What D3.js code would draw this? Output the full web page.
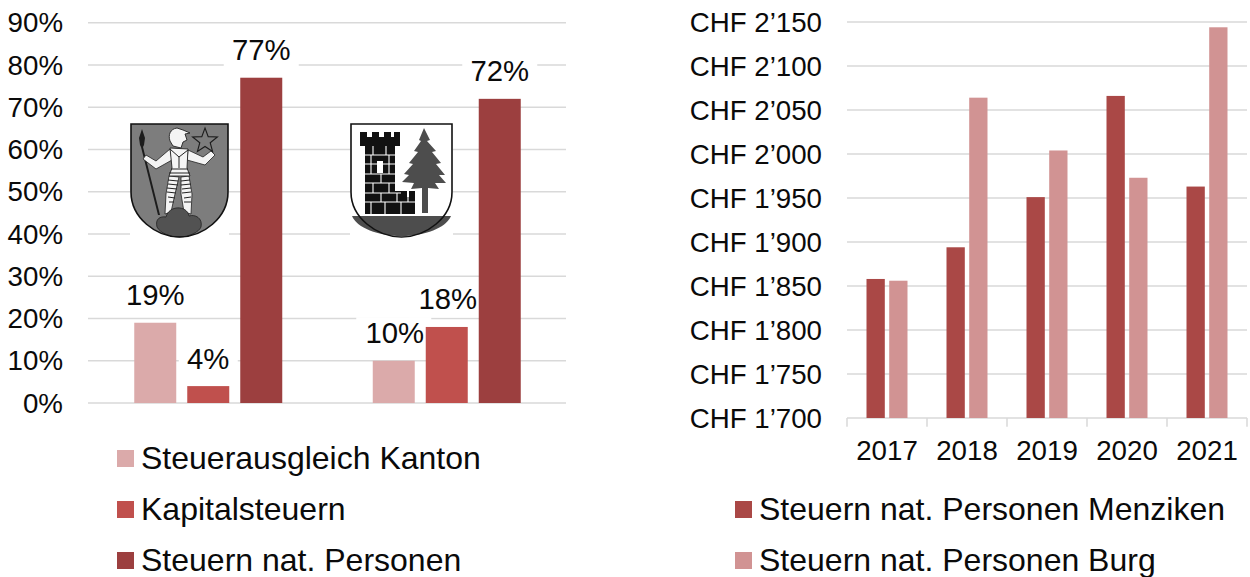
<!DOCTYPE html>
<html>
<head>
<meta charset="utf-8">
<script src="https://cdn.jsdelivr.net/npm/d3@7"></script>
<style>
html, body { margin: 0; padding: 0; background: #fff; }
text { font-family: "Liberation Sans", Arial, sans-serif; fill: #0a0a0a; }
</style>
</head>
<body>
<div id="chart"></div>
<script>
var shareGroups = ["Menziken", "Burg"];
var shareSeries = ["Steuerausgleich Kanton", "Kapitalsteuern", "Steuern nat. Personen"];
var shareColors = ["#dbaaaa", "#c0504d", "#9c3f3f"];
var shareValues = [[19, 10], [4, 18], [77, 72]];
var shareTicks = [0, 10, 20, 30, 40, 50, 60, 70, 80, 90];

var years = ["2017", "2018", "2019", "2020", "2021"];
var taxSeries = ["Steuern nat. Personen Menziken", "Steuern nat. Personen Burg"];
var taxColors = ["#aa4846", "#d19393"];
var taxMenziken = [1858, 1894, 1951, 2066, 1963];
var taxBurg = [1856, 2064, 2004, 1973, 2144];
var taxTicks = [1700, 1750, 1800, 1850, 1900, 1950, 2000, 2050, 2100, 2150];

var width = 1250, height = 577;
var tickSize = 27.7, labelSize = 29.3, legendSize = 32;
var gridColor = "#d9d9d9";

var svg = d3.select("#chart").append("svg")
    .attr("width", width)
    .attr("height", height)
    .style("display", "block");

// left chart
var left_g = svg.append("g");
var xLeft = d3.scaleBand().domain(shareGroups).range([89, 566]);
var yLeft = d3.scaleLinear().domain([0, 90]).range([403, 22.8]);
var barLeft = 42, stepLeft = 53;

function barCenter(group, s) {
    return xLeft(group) + xLeft.bandwidth() / 2 + (s - 1) * stepLeft;
}

left_g.selectAll(".grid").data(shareTicks).enter().append("line")
    .attr("x1", 88).attr("x2", 566)
    .attr("y1", d => yLeft(d)).attr("y2", d => yLeft(d))
    .attr("stroke", gridColor).attr("stroke-width", 1.5);

left_g.selectAll(".tick").data(shareTicks).enter().append("text")
    .attr("x", 63).attr("y", d => yLeft(d) + 9.5)
    .attr("text-anchor", "end").attr("font-size", tickSize)
    .text(d => d + "%");

// label boxes sit over the gridlines but under the bars
shareSeries.forEach((name, s) => {
    shareGroups.forEach((group, g) => {
        let value = shareValues[s][g];
        let w = String(value).length == 1 ? 59 : 75;
        left_g.append("rect")
            .attr("x", barCenter(group, s) - w / 2)
            .attr("y", yLeft(value) - 43.5)
            .attr("width", w).attr("height", 34)
            .attr("fill", "#fff");
    });
});

shareSeries.forEach((name, s) => {
    shareGroups.forEach((group, g) => {
        let value = shareValues[s][g];
        left_g.append("rect")
            .attr("x", barCenter(group, s) - barLeft / 2)
            .attr("y", yLeft(value))
            .attr("width", barLeft)
            .attr("height", yLeft(0) - yLeft(value))
            .attr("fill", shareColors[s]);
    });
});

// coats of arms (pictures in the original, not data)
function shieldPath(w) {
    return "M0,0 H" + w + " V68 C" + w + ",94 " + (w * 0.74) + ",113 " + (w / 2) + ",113 C" + (w * 0.26) + ",113 0,94 0,68 Z";
}

function drawShieldBack(x, y, w, fill) {
    let g = left_g.append("g").attr("transform", "translate(" + x + "," + y + ")");
    g.append("rect").attr("x", -1).attr("y", -2).attr("width", w + 2).attr("height", 118).attr("fill", "#fff");
    g.append("path").attr("d", shieldPath(w)).attr("fill", fill);
    return g;
}

var arm1 = drawShieldBack(131, 124, 97, "#7d7d7d");
// spear
arm1.append("path").attr("d", "M11,5 L14,14 L13,21 L12,23 L29,91 L27,91 L10,23 L9,21 L8,14 Z").attr("fill", "#1c1c1c");
// arms and legs
arm1.append("path").attr("d", "M39,25 L25,37 L15,31 L12,35 L25,45 L41,36 Z M57,26 L72,33 L80,27 L84,31 L74,41 L56,36 Z")
    .attr("fill", "#f4f4f4").attr("stroke", "#222").attr("stroke-width", 0.8);
arm1.append("path").attr("d", "M38,52 L48,53 L44,70 L40,88 L34,90 L35,70 Z M50,53 L58,52 L61,70 L60,90 L53,88 L50,70 Z")
    .attr("fill", "#f4f4f4").attr("stroke", "#222").attr("stroke-width", 0.8);
arm1.append("path").attr("d", "M37,56 L47,57 M37,60 L47,61 M36,64 L46,65 M36,68 L45,69 M50,57 L59,56 M50,61 L60,60 M51,65 L60,64 M51,69 L60,68 M37,73 L44,74 M38,78 L43,78 M53,74 L60,73 M53,78 L60,78")
    .attr("stroke", "#222").attr("stroke-width", 1).attr("fill", "none");
// torso and belt
arm1.append("path").attr("d", "M39,24 L57,25 L56,44 L59,52 L38,52 L41,44 Z")
    .attr("fill", "#f4f4f4").attr("stroke", "#222").attr("stroke-width", 0.9);
arm1.append("path").attr("d", "M39,25 L48,33 L57,26 M48,33 V44 M40,45 H57 M38,49 H59")
    .attr("stroke", "#222").attr("stroke-width", 1).attr("fill", "none");
// helmet
arm1.append("path").attr("d", "M46,4 C39,5 37,11 39,17 L42,22 L50,24 L52,18 L56,16 L54,10 L59,9 L52,6 Z")
    .attr("fill", "#f4f4f4").attr("stroke", "#222").attr("stroke-width", 0.9);
// star
arm1.append("path").attr("d", d3.range(10).map(i => {
        let r = i % 2 ? 5.5 : 13, a = i * Math.PI / 5 - Math.PI / 2;
        return (i ? "L" : "M") + (74 + r * Math.cos(a)).toFixed(1) + "," + (17 + r * Math.sin(a)).toFixed(1);
    }).join("") + "Z")
    .attr("fill", "none").attr("stroke", "#1c1c1c").attr("stroke-width", 1.1);
// rock
arm1.append("path").attr("d", "M26,103 C24,95 29,92 35,93 C38,81 56,81 58,92 C64,90 72,94 70,103 C68,108 58,113 48.5,113 C39,113 29,109 26,103 Z")
    .attr("fill", "#525252").attr("stroke", "#222").attr("stroke-width", 0.8);
arm1.append("path").attr("d", shieldPath(97)).attr("fill", "none").attr("stroke", "#111").attr("stroke-width", 1.6);

var arm2 = drawShieldBack(351, 124, 101, "#fff");
// tower and wall
arm2.append("path").attr("d", "M9,8 H16 V13 H21 V8 H28 V13 H33 V8 H40 V13 H43 V8 H49 V22 H44 V67 H50 V68 H50 V67 H56 V73 H58 V67 H64 V90 H14 V22 H9 Z").attr("fill", "#111");
arm2.append("path").attr("d", "M14,31 H44 M14,40 H44 M14,50 H44 M14,59 H44 M14,69 H50 M14,78 H64 M22,22 V31 M35,22 V31 M20,31 V40 M38,31 V40 M20,40 V50 M38,40 V50 M30,50 V59 M22,59 V69 M38,59 V69 M30,69 V78 M46,69 V78 M57,69 V78 M20,78 V90 M34,78 V90 M50,78 V90")
    .attr("stroke", "#fff").attr("stroke-width", 1.1).attr("fill", "none");
arm2.append("rect").attr("x", 26).attr("y", 37).attr("width", 6).attr("height", 12).attr("fill", "#fff");
// fir tree
arm2.append("path").attr("d", "M73,4 L79,16 L76,17 L85,27 L81,28 L90,39 L85,40 L94,51 L88,51 L95,59 L84,59 L88,65 L77,64 L77,89 L71,89 L71,64 L60,65 L63,59 L51,58 L58,51 L53,50 L62,40 L58,39 L67,28 L63,27 L70,17 L68,16 Z")
    .attr("fill", "#4d4d4d");
// ground
arm2.append("path").attr("d", "M1,92 H100 C95,104 74,112 50.5,112 C27,112 6,104 1,92 Z").attr("fill", "#4d4d4d");
arm2.append("path").attr("d", shieldPath(101)).attr("fill", "none").attr("stroke", "#111").attr("stroke-width", 1.6);

// value labels
shareSeries.forEach((name, s) => {
    shareGroups.forEach((group, g) => {
        let value = shareValues[s][g];
        left_g.append("text")
            .attr("x", barCenter(group, s) + (g == 1 && s < 2 ? 1 : 0))
            .attr("y", yLeft(value) - 17.5)
            .attr("text-anchor", "middle").attr("font-size", labelSize)
            .text(value + "%");
    });
});

function drawLegend(g, x, names, colors, ys) {
    names.forEach((name, i) => {
        g.append("rect").attr("x", x).attr("y", ys[i] - 8.5)
            .attr("width", 17).attr("height", 17).attr("fill", colors[i]);
        g.append("text").attr("x", x + 24).attr("y", ys[i] + 10.5)
            .attr("font-size", legendSize).text(name);
    });
}
drawLegend(left_g, 117, shareSeries, shareColors, [458.5, 509.5, 560.5]);

// right chart
var right_g = svg.append("g");
var xRight = d3.scaleBand().domain(years).range([847, 1247]);
var yRight = d3.scaleLinear().domain([1700, 2150]).range([418, 22]);
var barRight = 18.3, gapRight = 4.4;

right_g.selectAll(".grid").data(taxTicks.slice(1)).enter().append("line")
    .attr("x1", 847).attr("x2", 1247)
    .attr("y1", d => yRight(d)).attr("y2", d => yRight(d))
    .attr("stroke", gridColor).attr("stroke-width", 1.5);

right_g.append("line").attr("x1", 847).attr("x2", 1247)
    .attr("y1", 418).attr("y2", 418)
    .attr("stroke", gridColor).attr("stroke-width", 1.5);

d3.range(6).forEach(i => {
    let tx = 847 + i * xRight.step();
    right_g.append("line").attr("x1", tx).attr("x2", tx)
        .attr("y1", 418).attr("y2", 426.7)
        .attr("stroke", gridColor).attr("stroke-width", 1.5);
});

right_g.selectAll(".tick").data(taxTicks).enter().append("text")
    .attr("x", 822).attr("y", d => yRight(d) + 9.5)
    .attr("text-anchor", "end").attr("font-size", tickSize)
    .text(d => "CHF " + d3.format("d")(Math.floor(d / 1000)) + "’" + d3.format("03d")(d % 1000));

right_g.selectAll(".year").data(years).enter().append("text")
    .attr("x", d => xRight(d) + xRight.bandwidth() / 2).attr("y", 459.5)
    .attr("text-anchor", "middle").attr("font-size", tickSize)
    .text(d => d);

[taxMenziken, taxBurg].forEach((vals, s) => {
    right_g.selectAll(".bar" + s).data(vals).enter().append("rect")
        .attr("x", (d, i) => xRight(years[i]) + xRight.bandwidth() / 2 + (s == 0 ? -gapRight / 2 - barRight : gapRight / 2))
        .attr("y", d => yRight(d))
        .attr("width", barRight)
        .attr("height", d => yRight(1700) - yRight(d))
        .attr("fill", taxColors[s]);
});

drawLegend(right_g, 735, taxSeries, taxColors, [509.5, 560.5]);
</script>
</body>
</html>
